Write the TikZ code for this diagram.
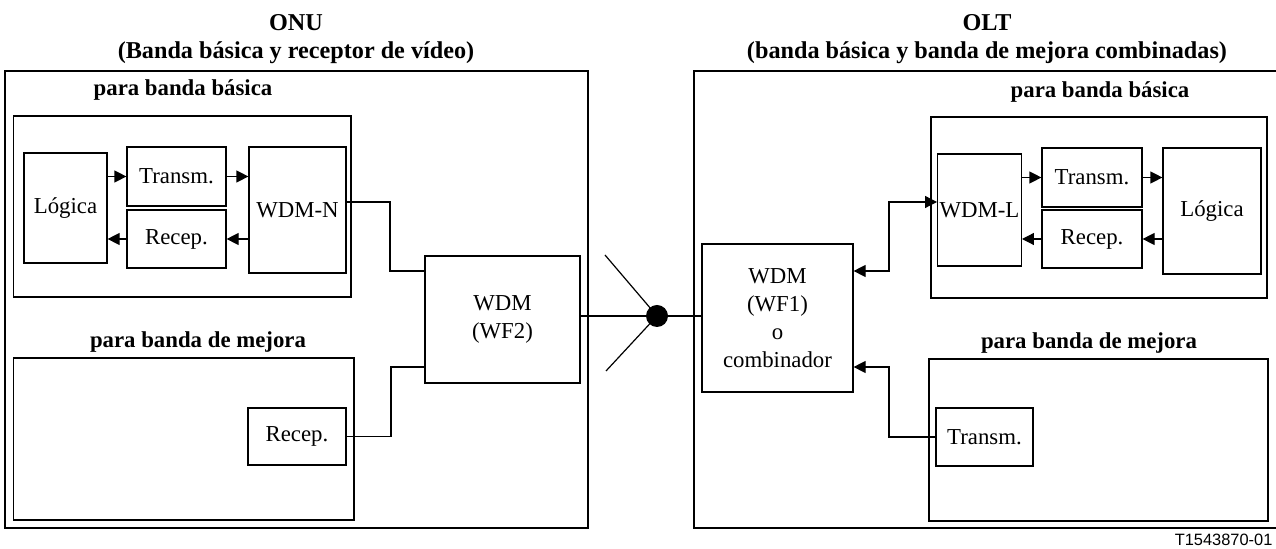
\documentclass[tikz,border=0pt]{standalone}
\usepackage{fontspec}
\setmainfont{Liberation Serif}
\setsansfont{Liberation Sans}
\usetikzlibrary{arrows.meta}
\begin{document}
\begin{tikzpicture}[x=0.5pt,y=-0.5pt,
      line width=0.6pt,>={Triangle[length=6pt,width=6pt]},
      font=\fontsize{11.4}{14}\selectfont,
      box/.style={draw,inner sep=1pt,align=center},
      frame/.style={draw,inner sep=0pt},
      heading/.style={font=\fontsize{11.4}{14}\selectfont\bfseries,align=center,inner sep=0pt},
      title/.style={font=\fontsize{12.1}{14}\selectfont\bfseries,align=center,inner sep=0pt}]
    \useasboundingbox (0,0) rectangle (1276,549);
    % ONU
    \node[frame,minimum width=291.5pt,minimum height=228.5pt] (onu) at (296.5,299.5) {};
    \node[frame,minimum width=168.75pt,minimum height=90.5pt] (onubb) at (182.25,206.5) {};
    \node[frame,minimum width=170.25pt,minimum height=81pt] (onuenh) at (183.75,439) {};
    \node[box,minimum width=41.5pt,minimum height=55pt] (logN) at (65.5,208) {Lógica};
    \node[box,minimum width=49.5pt,minimum height=29.5pt] (txN) at (176.5,176.5) {Transm.};
    \node[box,minimum width=49.5pt,minimum height=29pt] (rxN) at (176.5,239) {Recep.};
    \node[box,minimum width=48.5pt,minimum height=63pt] (wdmN) at (297.5,210) {WDM-N};
    \node[box,minimum width=77.5pt,minimum height=63.5pt] (wf2) at (502.5,319.5) {WDM\\(WF2)};
    \node[box,minimum width=49pt,minimum height=28.5pt] (rxE) at (297,436.5) {Recep.};
    % OLT
    \node[frame,minimum width=293pt,minimum height=228.5pt] (olt) at (987,299.5) {};
    \node[frame,minimum width=168pt,minimum height=90.5pt] (oltbb) at (1099,207.5) {};
    \node[frame,minimum width=169.5pt,minimum height=81pt] (oltenh) at (1098.5,440) {};
    \node[box,minimum width=41.5pt,minimum height=56pt] (wdmL) at (979.5,210) {WDM-L};
    \node[box,minimum width=50pt,minimum height=29.5pt] (txL) at (1092,177.5) {Transm.};
    \node[box,minimum width=50pt,minimum height=29pt] (rxL) at (1092,239) {Recep.};
    \node[box,minimum width=49pt,minimum height=63pt] (logL) at (1212,211) {Lógica};
    \node[box,minimum width=75.5pt,minimum height=74pt] (wf1) at (777.5,318) {WDM\\(WF1)\\o\\combinador};
    \node[box,minimum width=48.5pt,minimum height=29pt] (txE) at (984.5,437) {Transm.};
    \node[circle,fill,inner sep=0pt,minimum size=11pt] (dot) at (657,316) {};
    % titles
    \node[title] (onuT) at (296,39) {ONU\\(Banda básica y receptor de vídeo)};
    \node[title] (oltT) at (987,39) {OLT\\(banda básica y banda de mejora combinadas)};
    \node[heading] (onubbT) at (183,90) {para banda básica};
    \node[heading] (oltbbT) at (1100,92) {para banda básica};
    \node[heading] (onuenhT) at (198,342) {para banda de mejora};
    \node[heading] (oltenhT) at (1089,343) {para banda de mejora};
    \node[font=\sffamily\fontsize{8.2}{10}\selectfont,anchor=base east,inner sep=0pt] (fig) at (1273,546) {T1543870-01};
    % links
    \draw[->] (txN.west -| logN.east) -- (txN.west);
    \draw[->] (txN.east) -- (txN.east -| wdmN.west);
    \draw[->] (rxN.east -| wdmN.west) -- (rxN.east);
    \draw[->] (rxN.west) -- (rxN.west -| logN.east);
    \draw[->] (txL.west -| wdmL.east) -- (txL.west);
    \draw[->] (txL.east) -- (txL.east -| logL.west);
    \draw[->] (rxL.east -| logL.west) -- (rxL.east);
    \draw[->] (rxL.west) -- (rxL.west -| wdmL.east);
    \coordinate (k1) at (390,271);
    \coordinate (k2) at (391,367);
    \coordinate (k3) at (889,202);
    \coordinate (k4) at (889,367);
    \draw ([yshift=4pt]wdmN.east) -| (k1) -- (k1 -| wf2.west);
    \draw (rxE.east) -| (k2) -- (k2 -| wf2.west);
    \draw[<->] (wf1.east |- 0,271) -| (k3) -- (k3 -| wdmL.west);
    \draw[->] (txE.west) -| (k4) -- (k4 -| wf1.east);
    \coordinate (a1) at (605,255);
    \coordinate (a2) at (606,371);
    \draw (wf2.east |- dot) -- (wf1.west |- dot);
    \draw (a1) -- (dot.center) -- (a2);
\end{tikzpicture}
\end{document}
